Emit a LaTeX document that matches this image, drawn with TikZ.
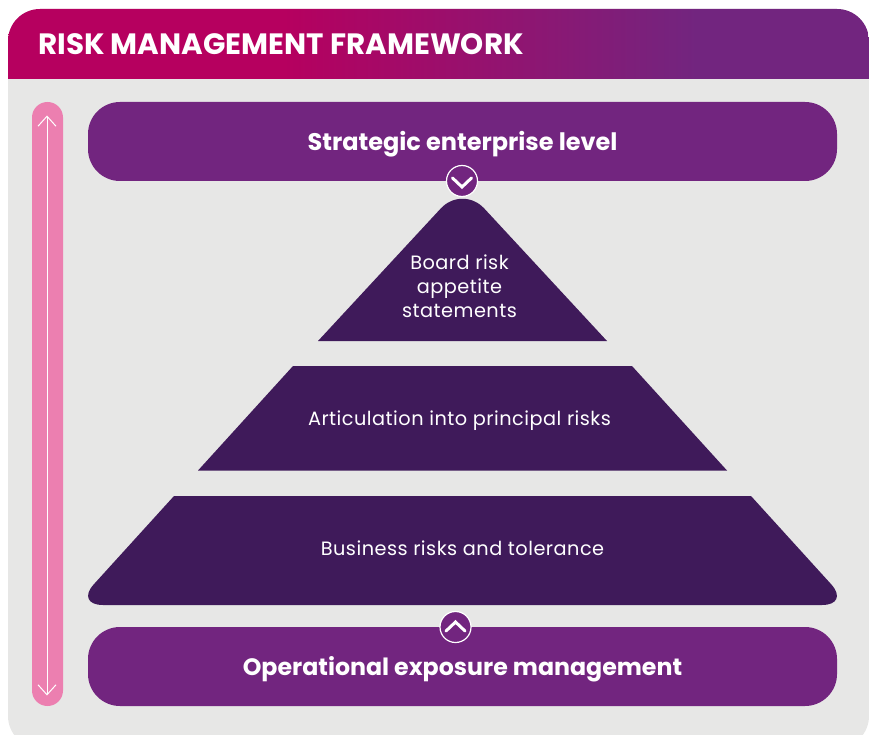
\documentclass[tikz,border=0pt]{standalone}
\usepackage{fontspec}
\setmainfont{Poppins}
\newfontfamily\tierfont[LetterSpace=2.5]{Poppins}
\usetikzlibrary{arrows.meta}
\definecolor{panelgrey}{HTML}{E7E7E6}
\definecolor{crimson}{HTML}{B6005F}
\definecolor{plum}{HTML}{72257F}
\definecolor{darkplum}{HTML}{3F1A5A}
\definecolor{barpink}{HTML}{EC7FB0}
\pgfdeclarehorizontalshading{headershade}{100bp}{
    color(0bp)=(crimson); color(41bp)=(crimson); color(65bp)=(plum); color(100bp)=(plum)}
\tikzset{
    band/.style={fill=plum, rounded corners=32pt, inner sep=0pt, minimum width=749pt, minimum height=79pt, text=white, text height=20pt, text depth=3pt, font=\fontsize{23.7}{26}\selectfont\bfseries},
    tier/.style={fill=darkplum},
    tierlabel/.style={text=white, align=center, inner sep=0pt, font=\tierfont\fontsize{19.3}{24}\selectfont},
    badge/.style={circle, draw=white, fill=plum, line width=1.2pt, minimum size=31pt, inner sep=0pt},
    chevron/.style={draw=white, line width=3pt, line cap=round},
    barline/.style={draw=white, line width=1pt, {Straight Barb[length=10pt,width=18pt]}-{Straight Barb[length=10pt,width=18pt]}}
}
\begin{document}
\begin{tikzpicture}[x=1pt,y=-1pt]
    \useasboundingbox (0,0) rectangle (869,735);
    % panel and header
    \fill[panelgrey, rounded corners=32pt] (8,9) rectangle (869,748);
    \begin{scope}
        \clip (0,0) rectangle (869,78.5);
        \path[shading=headershade, rounded corners=32pt] (8,9) rectangle (869,120);
    \end{scope}
    \node[anchor=base west, text=white, inner sep=0pt, font=\fontsize{29.4}{32}\selectfont\bfseries] (title) at (38,54.5) {RISK MANAGEMENT FRAMEWORK};
    % side bar
    \fill[barpink, rounded corners=15.5pt] (32,102) rectangle (63,706);
    \coordinate (bartop) at (47,115.5);
    \coordinate (barbottom) at (47,695.5);
    \draw[barline] (bartop) -- (barbottom);
    % bands
    \node[band, text height=22pt, font=\fontsize{24}{26}\selectfont\bfseries] (strategic) at (462.5,141.5) {Strategic enterprise level};
    \node[band] (operational) at (462.5,666.5) {Operational exposure management};
    % pyramid
    \fill[tier] (318,341) -- (462,341) -- (607,341) [rounded corners=32pt] -- (462.5,185) [sharp corners] -- cycle;
    \fill[tier] (293,366) -- (632,366) -- (727,470.5) -- (198,470.5) -- cycle;
    \fill[tier] (174,496) -- (751,496) [rounded corners=28pt] -- (850,605) -- (75,605) [sharp corners] -- cycle;
    \node[tierlabel] (board) at (459.5,286.5) {Board risk\\appetite\\statements};
    \node[tierlabel] (principal) at (459.5,420.5) {Articulation into principal risks};
    \node[tierlabel] (business) at (462.5,548) {Business risks and tolerance};
    % badges
    \node[badge] (downbadge) at (462,181) {};
    \node[badge] (upbadge) at (455.5,627) {};
    \draw[chevron] (452.5,178) -- (462,187) -- (471.5,178);
    \draw[chevron] (446,631) -- (455.5,622) -- (465,631);
\end{tikzpicture}
\end{document}
